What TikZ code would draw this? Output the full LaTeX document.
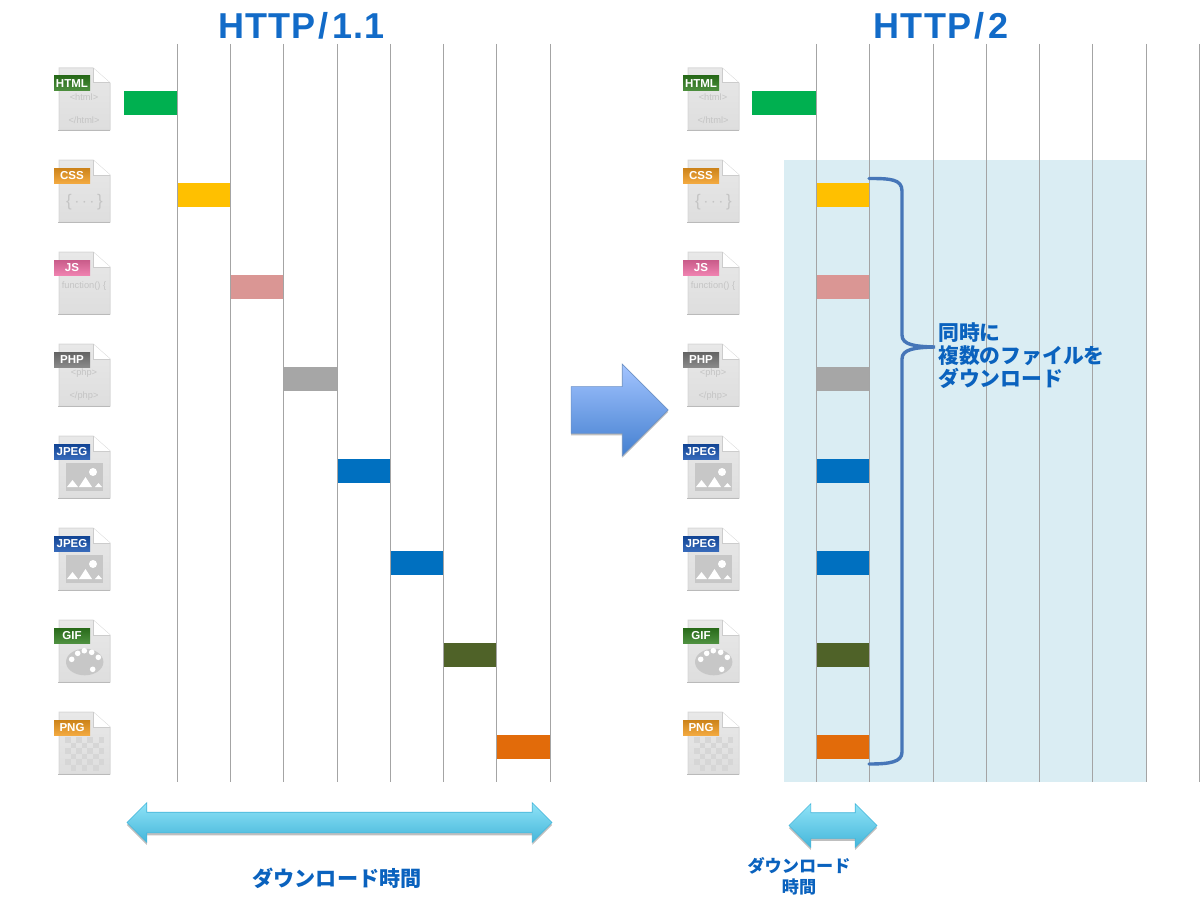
\documentclass[tikz,border=0pt]{standalone}
\usepackage{fontspec}
\setmainfont{Liberation Sans}
\newfontfamily\cjk{Noto Sans CJK JP}
\newfontfamily\titlefont[LetterSpace=3]{Liberation Sans}
\usetikzlibrary{shapes.arrows,shadows}
\def\px{0.7113pt}
\newcommand\tslash{\kern2.5pt/\kern2.5pt}
\definecolor{titleblue}{HTML}{126BC8}
\definecolor{noteblue}{HTML}{0A62BE}
\definecolor{panelbg}{HTML}{DAEDF3}
\definecolor{gridgray}{HTML}{A4A4A4}
\definecolor{bracec}{HTML}{4676B8}
\definecolor{htmlc}{HTML}{00B050}
\definecolor{cssc}{HTML}{FFC000}
\definecolor{jsc}{HTML}{DA9694}
\definecolor{phpc}{HTML}{A6A6A6}
\definecolor{jpegc}{HTML}{0070C0}
\definecolor{gifc}{HTML}{4F6228}
\definecolor{pngc}{HTML}{E26B0A}
\definecolor{inkgray}{HTML}{C4C4C4}
\definecolor{taggreen}{HTML}{2F7D1E}
\definecolor{tagorange}{HTML}{F09A1E}
\definecolor{tagpink}{HTML}{EC6CA2}
\definecolor{taggray}{HTML}{757575}
\definecolor{tagblue}{HTML}{1450AE}
\definecolor{arrtop}{HTML}{8FE3F7}
\definecolor{arrbot}{HTML}{45B6DA}
\definecolor{bigtop}{HTML}{A3C4FF}
\definecolor{bigbot}{HTML}{4480D0}
\tikzset{
  gridln/.style={draw=gridgray,line width=1*\px},
  fbar/.style={inner sep=0pt,minimum height=24*\px,minimum width=53*\px},
  ttl/.style={font=\titlefont\bfseries\fontsize{25.6}{28}\selectfont,text=titleblue,inner sep=0pt,anchor=base},
  note/.style={font=\cjk\bfseries\fontsize{14.8}{16.4}\selectfont,text=noteblue,inner sep=0pt,align=left},
  notec/.style={font=\cjk\bfseries\fontsize{12.2}{15}\selectfont,text=noteblue,inner sep=0pt,align=center},
  brc/.style={draw=bracec,line width=3.4*\px,line cap=round},
  spanarr/.style={double arrow,inner xsep=0pt,top color=arrtop,bottom color=arrbot,
    draw=arrbot,line width=0.6*\px,
    drop shadow={shadow xshift=0pt,shadow yshift=-2.5*\px,opacity=.25,fill=black}},
  bigarr/.style={single arrow,inner xsep=0pt,top color=bigtop,bottom color=bigbot,
    draw=bracec!80,line width=0.6*\px,
    drop shadow={shadow xshift=0pt,shadow yshift=-2*\px,opacity=.25,fill=black}},
  tagtxt/.style={font=\bfseries\fontsize{8.2}{9}\selectfont,text=white,inner sep=0pt},
  ink/.style={font=\fontsize{6.6}{8}\selectfont,text=inkgray,inner sep=0pt},
  pics/docicon/.style n args={3}{code={
    \shade[top color=white!91!black,bottom color=white!87!black,draw=black!15,line width=1*\px]
      (0,0) -- (34,0) -- (51,15) -- (51,62) -- (0,62) -- cycle;
    \fill[white] (34,0) -- (51,15) -- (34,15) -- cycle;
    \draw[black!20,line width=1*\px] (34,0) -- (34,15) -- (51,15);
    \draw[black!27,line width=1.6*\px] (-1,62.5) -- (51,62.5);
    #3
    \shade[top color=#2!85!black,bottom color=#2!85!white] (-5,8) rectangle (31,23);
    \node[tagtxt] (-tag) at (13,15.5) {#1};
  }},
  pics/htmlink/.style={code={\node[ink] at (25,29) {<html>}; \node[ink] at (25,52) {</html>};}},
  pics/cssink/.style={code={\node[ink,font=\fontsize{12}{14}\selectfont] at (25.5,42) {\{\,$\cdot$\,$\cdot$\,$\cdot$\,\}};}},
  pics/jsink/.style={code={\node[ink] at (25,34) {function() \{};}},
  pics/phpink/.style={code={\node[ink] at (25,29) {<php>}; \node[ink] at (25,52) {</php>};}},
  pics/jpegink/.style={code={
    \fill[black!22] (7,27) rectangle (44,55);
    \fill[white] (34,36) circle (4);
    \fill[white] (8,51) -- (13.5,44) -- (19,51) -- cycle;
    \fill[white] (20,51) -- (26.5,41) -- (33,51) -- cycle;
    \fill[white] (36,51) -- (39.5,47) -- (43,51) -- cycle;
  }},
  pics/gifink/.style={code={
    \fill[black!22] (25.7,42) ellipse (18.7 and 13.3);
    \foreach \dx/\dy in {12.7/39.3,18.7/33.3,25.3/30.7,32.7/32.3,39.3/37.3,33.7/49.3}
      \fill[white] (\dx,\dy) circle (2.8);
  }},
  pics/pngink/.style={code={
    \foreach \cx in {0,...,6} \foreach \cy in {0,...,5}{
      \pgfmathparse{int(mod(\cx+\cy,2))}
      \ifnum\pgfmathresult=0 \fill[black!16] (6+5.6*\cx,25+5.6*\cy) rectangle ++(5.6,5.6); \fi
    }
  }},
}
\begin{document}
\begin{tikzpicture}[x=0.025cm,y=-0.025cm]
  \useasboundingbox (0,0) rectangle (1200,906);
  \fill[white] (0,0) rectangle (1200,906);
  % panel behind the second chart
  \fill[panelbg] (784,160) rectangle (1146,782);
  \node[ttl] (title1) at (301.5,38.3) {HTTP\tslash 1.1};
  \node[ttl] (title2) at (941,38.3) {HTTP\tslash 2};
  % file icons, left
  \pic (ihtml) at (59,68) {docicon={HTML}{taggreen}{\pic {htmlink};}};
  \pic (icss) at (59,160) {docicon={CSS}{tagorange}{\pic {cssink};}};
  \pic (ijs) at (59,252) {docicon={JS}{tagpink}{\pic {jsink};}};
  \pic (iphp) at (59,344) {docicon={PHP}{taggray}{\pic {phpink};}};
  \pic (ijpg) at (59,436) {docicon={JPEG}{tagblue}{\pic {jpegink};}};
  \pic (ijpgb) at (59,528) {docicon={JPEG}{tagblue}{\pic {jpegink};}};
  \pic (igif) at (59,620) {docicon={GIF}{taggreen}{\pic {gifink};}};
  \pic (ipng) at (59,712) {docicon={PNG}{tagorange}{\pic {pngink};}};
  % file icons, right
  \pic (rhtml) at (688,68) {docicon={HTML}{taggreen}{\pic {htmlink};}};
  \pic (rcss) at (688,160) {docicon={CSS}{tagorange}{\pic {cssink};}};
  \pic (rjs) at (688,252) {docicon={JS}{tagpink}{\pic {jsink};}};
  \pic (rphp) at (688,344) {docicon={PHP}{taggray}{\pic {phpink};}};
  \pic (rjpg) at (688,436) {docicon={JPEG}{tagblue}{\pic {jpegink};}};
  \pic (rjpgb) at (688,528) {docicon={JPEG}{tagblue}{\pic {jpegink};}};
  \pic (rgif) at (688,620) {docicon={GIF}{taggreen}{\pic {gifink};}};
  \pic (rpng) at (688,712) {docicon={PNG}{tagorange}{\pic {pngink};}};
  % bars, left
  \node[fbar,fill=htmlc] (bhtml) at (150.5,103) {};
  \node[fbar,fill=cssc] (bcss) at (204,195) {};
  \node[fbar,fill=jsc] (bjs) at (257,287) {};
  \node[fbar,fill=phpc] (bphp) at (310.5,379) {};
  \node[fbar,fill=jpegc] (bjpg) at (363.5,471) {};
  \node[fbar,fill=jpegc] (bjpgb) at (417,563) {};
  \node[fbar,fill=gifc] (bgif) at (470,655) {};
  \node[fbar,fill=pngc] (bpng) at (523.5,747) {};
  % bars, right
  \node[fbar,fill=htmlc,minimum width=64*\px] (chtml) at (784,103) {};
  \node[fbar,fill=cssc] (ccss) at (843,195) {};
  \node[fbar,fill=jsc] (cjs) at (843,287) {};
  \node[fbar,fill=phpc] (cphp) at (843,379) {};
  \node[fbar,fill=jpegc] (cjpg) at (843,471) {};
  \node[fbar,fill=jpegc] (cjpgb) at (843,563) {};
  \node[fbar,fill=gifc] (cgif) at (843,655) {};
  \node[fbar,fill=pngc] (cpng) at (843,747) {};
  \foreach \x in {177.5,230.5,283.5,337.5,390.5,443.5,496.5,550.5}
    \draw[gridln] (\x,44) -- (\x,782);
  \foreach \x in {816.5,869.5,933.5,986.5,1039.5,1092.5,1146.5,1199.5}
    \draw[gridln] (\x,44) -- (\x,782);
  % brace
  \coordinate (brtop) at (869,178.5);
  \coordinate (brtip) at (935,347);
  \coordinate (brbot) at (869,764);
  \draw[brc] (brtop) .. controls (890,178.5) and (902,179) .. (902,191) -- (902,335)
    .. controls (902,345) and (915,346.5) .. (brtip)
    .. controls (915,347.5) and (902,349) .. (902,359) -- (902,752)
    .. controls (902,762) and (890,764) .. (brbot);
  \node[note,anchor=north west] (multi) at (938,322) {同時に\\複数のファイルを\\ダウンロード};
  \node[bigarr,inner ysep=23*\px,single arrow head extend=22.5*\px,minimum height=97*\px,anchor=tip] (next) at (668.5,410) {};
  \node[spanarr,inner ysep=10*\px,double arrow head extend=9.5*\px,minimum height=425*\px] (span1) at (339.5,822.5) {};
  \node[spanarr,inner ysep=12.5*\px,double arrow head extend=9*\px,minimum height=88*\px] (span2) at (833,825.5) {};
  \node[note,font=\cjk\bfseries\fontsize{15}{17}\selectfont] (time1) at (337,878) {ダウンロード時間};
  \node[notec] (time2) at (799,876.5) {ダウンロード\\時間};
\end{tikzpicture}
\end{document}
